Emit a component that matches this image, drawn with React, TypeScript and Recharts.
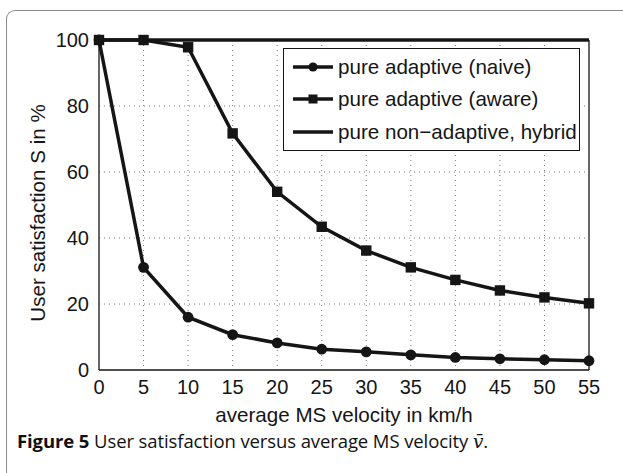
import React from 'react';
import { LineChart, Line, XAxis, YAxis, CartesianGrid, Legend } from 'recharts';

const velocity = [0, 5, 10, 15, 20, 25, 30, 35, 40, 45, 50, 55];
const naive = [100, 31.1, 16, 10.7, 8.2, 6.3, 5.5, 4.6, 3.8, 3.4, 3.1, 2.8];
const aware = [100, 100, 97.8, 71.7, 54, 43.4, 36.2, 31.1, 27.3, 24.1, 22, 20.2];
const hybrid = [100, 100, 100, 100, 100, 100, 100, 100, 100, 100, 100, 100];
const xTicks = [0, 5, 10, 15, 20, 25, 30, 35, 40, 45, 50, 55];
const yTicks = [0, 20, 40, 60, 80, 100];
const seriesNames = ['pure adaptive (naive)', 'pure adaptive (aware)', 'pure non\u2212adaptive, hybrid'];

const data = velocity.map((v, i) => ({ v, naive: naive[i], aware: aware[i], hybrid: hybrid[i] }));

const INK = '#151515';
const FONT = '"Liberation Sans", Arial, sans-serif';

const SquareDot = (props: any) => {
  const { cx, cy, index } = props;
  if (cx == null || cy == null) return <g key={`s${index}`} />;
  return <rect key={`s${index}`} x={cx - 5.2} y={cy - 5.2} width={10.4} height={10.4} fill={INK} />;
};
const CircleDot = (props: any) => {
  const { cx, cy, index } = props;
  if (cx == null || cy == null) return <g key={`c${index}`} />;
  return <circle key={`c${index}`} cx={cx} cy={cy} r={5.4} fill={INK} />;
};

const LegendIcon = ({ kind }: { kind: string }) => (
  <svg width={42} height={14} style={{ display: 'block' }}>
    <line x1={1} y1={7} x2={41} y2={7} stroke={INK} strokeWidth={3.5} />
    {kind === 'circle' && <circle cx={21} cy={7} r={4.6} fill={INK} />}
    {kind === 'square' && <rect x={16.5} y={2.5} width={9} height={9} fill={INK} />}
  </svg>
);

const renderLegend = () => {
  const kinds = ['circle', 'square', 'none'];
  return (
    <div
      style={{
        border: `1.3px solid ${INK}`,
        background: '#fff',
        padding: '2px 0px 2px 8px',
        width: 297,
        boxSizing: 'border-box',
        fontFamily: FONT,
        fontSize: 20.6,
        color: INK,
      }}
    >
      {seriesNames.map((n, i) => (
        <div key={n} style={{ display: 'flex', alignItems: 'center', height: 32.3, whiteSpace: 'nowrap' }}>
          <LegendIcon kind={kinds[i]} />
          <span style={{ marginLeft: 4 }}>{n}</span>
        </div>
      ))}
    </div>
  );
};

export default function App() {
  const tickStyle = { fontFamily: FONT, fontSize: 20, fill: INK };
  return (
    <div style={{ position: 'absolute', left: 0, top: 0, width: 623, height: 473, background: '#fff', overflow: 'hidden' }}>
      <div
        style={{
          position: 'absolute',
          left: 6,
          top: 10,
          width: 700,
          height: 600,
          borderLeft: '1.5px solid #8c8c8c',
          borderTop: '1.5px solid #8c8c8c',
          borderTopLeftRadius: 9,
        }}
      />
      <div style={{ position: 'absolute', left: 0, top: 0 }}>
        <LineChart width={623} height={473} data={data} margin={{ top: 40, right: 34, bottom: 73, left: 39 }}>
          <CartesianGrid
            stroke="#7a7a7a"
            strokeDasharray="1 4"
            strokeWidth={1}
            horizontalValues={[20, 40, 60, 80]}
            verticalValues={[5, 10, 15, 20, 25, 30, 35, 40, 45, 50]}
          />
          <XAxis
            dataKey="v"
            type="number"
            domain={[0, 55]}
            ticks={xTicks}
            interval={0}
            height={30}
            tickLine={false}
            tickSize={0}
            tickMargin={10}
            axisLine={{ stroke: INK, strokeWidth: 1.3 }}
            tick={tickStyle}
            label={{ value: 'average MS velocity in km/h', position: 'insideBottom', offset: -22, style: { fontFamily: FONT, fontSize: 20.6, fill: INK } }}
          />
          <XAxis
            xAxisId="bm"
            type="number"
            domain={[0, 55]}
            ticks={xTicks}
            interval={0}
            orientation="bottom"
            mirror
            tick={false}
            tickSize={5}
            tickLine={{ stroke: INK, strokeWidth: 1 }}
            axisLine={false}
          />
          <XAxis
            xAxisId="tm"
            type="number"
            domain={[0, 55]}
            ticks={xTicks}
            interval={0}
            orientation="top"
            mirror
            tick={false}
            tickSize={5}
            tickLine={{ stroke: INK, strokeWidth: 1 }}
            axisLine={{ stroke: INK, strokeWidth: 1.3 }}
          />
          <YAxis
            type="number"
            domain={[0, 100]}
            ticks={yTicks}
            interval={0}
            width={60}
            tickLine={false}
            tickSize={0}
            tickMargin={10}
            axisLine={{ stroke: INK, strokeWidth: 1.3 }}
            tick={tickStyle}
            label={{ value: 'User satisfaction S in %', angle: -90, position: 'insideLeft', offset: -1, dy: 8, style: { fontFamily: FONT, fontSize: 20.6, fill: INK, textAnchor: 'middle' } }}
          />
          <YAxis
            yAxisId="lm"
            type="number"
            domain={[0, 100]}
            ticks={yTicks}
            interval={0}
            orientation="left"
            mirror
            tick={false}
            tickSize={5}
            tickLine={{ stroke: INK, strokeWidth: 1 }}
            axisLine={false}
          />
          <YAxis
            yAxisId="rm"
            type="number"
            domain={[0, 100]}
            ticks={yTicks}
            interval={0}
            orientation="right"
            mirror
            tick={false}
            tickSize={5}
            tickLine={{ stroke: INK, strokeWidth: 1 }}
            axisLine={{ stroke: INK, strokeWidth: 1.3 }}
          />
          <Legend
            layout="vertical"
            align="center"
            verticalAlign="middle"
            content={renderLegend}
            wrapperStyle={{ position: 'absolute', left: 283, top: 48, width: 'auto' }}
          />
          <Line
            name={seriesNames[2]}
            dataKey="hybrid"
            stroke={INK}
            strokeWidth={3.5}
            dot={false}
            activeDot={false}
            isAnimationActive={false}
          />
          <Line
            name={seriesNames[1]}
            dataKey="aware"
            stroke={INK}
            strokeWidth={3.5}
            dot={SquareDot}
            activeDot={false}
            isAnimationActive={false}
          />
          <Line
            name={seriesNames[0]}
            dataKey="naive"
            stroke={INK}
            strokeWidth={3.5}
            dot={CircleDot}
            activeDot={false}
            isAnimationActive={false}
          />
        </LineChart>
      </div>
      <div
        style={{
          position: 'absolute',
          left: 17,
          top: 428,
          fontFamily: '"Open Sans", "Noto Sans", sans-serif',
          fontSize: 18.5,
          color: '#111',
          whiteSpace: 'nowrap',
          letterSpacing: -0.1,
        }}
      >
        <b>Figure 5</b> User satisfaction versus average MS velocity{' '}
        <i style={{ fontFamily: '"DejaVu Serif", serif' }}>v̄</i>.
      </div>
    </div>
  );
}
